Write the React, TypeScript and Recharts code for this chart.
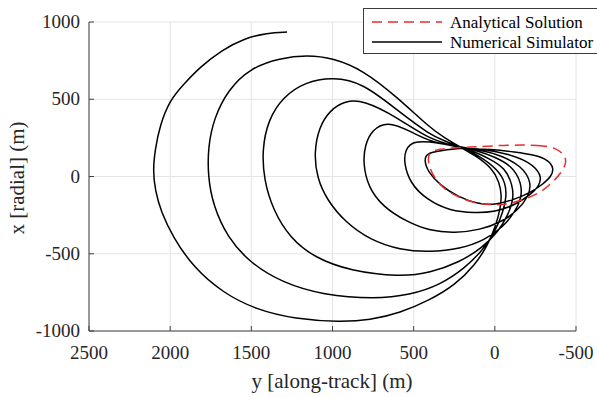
import { ComposedChart, Line, XAxis, YAxis, CartesianGrid, Legend } from 'recharts'

const FONT = '"Liberation Serif", "Times New Roman", serif'
const INK = '#262626'
const FRAME = '#404040'
const RED = '#e62e2e'
const PLOT_TOP = 22
const PLOT_BOTTOM = 331
const PLOT_LEFT = 89
const PLOT_RIGHT = 576

// tick values
const alongTicks = [2500, 2000, 1500, 1000, 500, 0, -500]
const radialTicks = [-1000, -500, 0, 500, 1000]

const loop1 = [
  [1280, 935], [1403, 929], [1539, 896], [1681, 819], [1816, 709], [1921, 592], [2001, 495],
  [2063, 333], [2093, 172], [2106, 42], [2093, -87], [2056, -230], [1983, -391], [1859, -586],
  [1675, -754], [1465, -864], [1231, -922], [954, -942], [769, -929], [584, -883], [399, -799],
  [245, -702], [122, -573], [42, -443], [-7, -314], [-35, -204], [-42, -120], [-28, -36],
  [18, 55], [116, 133],
]
const loop2 = [
  [215, 191], [307, 249], [399, 314], [603, 515], [812, 689], [997, 767], [1157, 786],
  [1323, 767], [1508, 702], [1644, 560], [1730, 379], [1767, 191], [1767, -3], [1736, -184],
  [1650, -391], [1508, -560], [1305, -689], [1059, -767], [738, -793], [523, -767], [338, -702],
  [184, -592], [73, -476], [-7, -346], [-50, -230], [-72, -132], [-66, -42], [-20, 42], [91, 133],
]
const loop3 = [
  [215, 191], [307, 230], [399, 269], [603, 430], [812, 605], [997, 644], [1169, 612],
  [1305, 515], [1397, 366], [1434, 172], [1422, -23], [1366, -217], [1262, -398], [1108, -527],
  [892, -611], [584, -650], [399, -624], [215, -553], [79, -463], [-20, -359], [-81, -249],
  [-115, -152], [-110, -55], [-63, 55], [30, 113], [122, 159],
]
const loop4 = [
  [215, 191], [399, 236], [603, 385], [812, 495], [923, 489], [1015, 430], [1083, 320],
  [1114, 152], [1095, -10], [1034, -152], [923, -294], [769, -411], [584, -476], [399, -489],
  [215, -469], [61, -411], [-50, -327], [-124, -230], [-165, -139], [-165, -42], [-106, 68],
  [-1, 126], [104, 165],
]
const loop5 = [
  [215, 191], [399, 223], [523, 295], [664, 359], [757, 301], [800, 204], [812, 87],
  [781, -68], [689, -197], [541, -294], [399, -353], [245, -366], [91, -346], [-44, -294],
  [-143, -217], [-206, -132], [-228, -42], [-167, 68], [-32, 139], [91, 172],
]
const loop6 = [
  [215, 191], [338, 217], [504, 236], [553, 172], [560, 87], [523, -42], [418, -152],
  [276, -223], [122, -236], [-1, -230], [-124, -184], [-217, -120], [-275, -61], [-290, 10],
  [-217, 94], [-81, 146], [61, 178],
]
const loop7 = [
  [215, 185], [338, 165], [418, 152], [436, 107], [412, 29], [338, -55], [227, -132],
  [104, -178], [-1, -184], [-112, -152], [-217, -107], [-297, -49], [-350, 3], [-364, 55],
  [-327, 107], [-247, 139], [-124, 159], [30, 178], [153, 178],
]

// analytical solution (closed loop)
const analytical = [
  [-75, 204], [-278, 204], [-377, 185], [-430, 139], [-442, 94], [-414, 29], [-352, -42],
  [-278, -107], [-173, -152], [-63, -184], [30, -184], [135, -171], [245, -126], [338, -61],
  [393, 29], [415, 107], [402, 172], [258, 185], [135, 191],
]

const toRows = (pts: number[][]) => pts.map(([along, radial]) => ({ along, radial }))
const numericalRows = toRows([...loop1, ...loop2, ...loop3, ...loop4, ...loop5, ...loop6, ...loop7])
const analyticalRows = toRows(analytical)

const BottomTick = ({ x, payload }: any) => (
  <g>
    <line x1={x} x2={x} y1={PLOT_BOTTOM} y2={PLOT_BOTTOM - 5} stroke={FRAME} />
    <text x={x} y={359} textAnchor="middle" fontSize={19} fill={INK} fontFamily={FONT}>
      {payload.value}
    </text>
  </g>
)

const TopTick = ({ x }: any) => (
  <line x1={x} x2={x} y1={PLOT_TOP} y2={PLOT_TOP + 5} stroke={FRAME} />
)

const LeftTick = ({ y, payload }: any) => (
  <g>
    <line x1={PLOT_LEFT} x2={PLOT_LEFT + 5} y1={y} y2={y} stroke={FRAME} />
    <text x={80} y={y + 6} textAnchor="end" fontSize={19} fill={INK} fontFamily={FONT}>
      {payload.value}
    </text>
  </g>
)

const RightTick = ({ y }: any) => (
  <line x1={PLOT_RIGHT} x2={PLOT_RIGHT - 5} y1={y} y2={y} stroke={FRAME} />
)

const XTitle = () => (
  <text x={332} y={388} textAnchor="middle" fontSize={21} fill={INK} fontFamily={FONT}>
    y [along-track] (m)
  </text>
)

const YTitle = () => (
  <text x={24} y={178} transform="rotate(-90, 24, 178)" textAnchor="middle" fontSize={21} fill={INK} fontFamily={FONT}>
    x [radial] (m)
  </text>
)

const LegendBox = () => (
  <div style={{ width: 250, height: 44, border: '1px solid #3c3c3c', background: '#fff' }}>
    <svg width={250} height={44} style={{ display: 'block' }}>
      <line x1={8} x2={78} y1={13} y2={13} stroke={RED} strokeWidth={1.5} strokeDasharray="10 6" />
      <text x={86} y={19} fontSize={17} fill="#000" fontFamily={FONT}>Analytical Solution</text>
      <line x1={8} x2={78} y1={33} y2={33} stroke="#000" strokeWidth={1.5} />
      <text x={86} y={39} fontSize={17} fill="#000" fontFamily={FONT}>Numerical Simulator</text>
    </svg>
  </div>
)

export default function App() {
  return (
    <div style={{ position: 'absolute', left: 0, top: 0, width: 597, height: 397, overflow: 'hidden', background: '#fff' }}>
      <ComposedChart width={597} height={397} margin={{ top: 22, right: 21, left: 0, bottom: 0 }}>
        <CartesianGrid stroke="#e4e4e4" />
        <XAxis
          dataKey="along"
          type="number"
          domain={[-500, 2500]}
          ticks={alongTicks}
          interval={0}
          reversed
          allowDataOverflow
          height={66}
          tickLine={false}
          axisLine={{ stroke: FRAME }}
          tick={<BottomTick />}
          label={<XTitle />}
        />
        <XAxis
          xAxisId="top"
          orientation="top"
          dataKey="along"
          type="number"
          domain={[-500, 2500]}
          ticks={alongTicks}
          interval={0}
          reversed
          allowDataOverflow
          height={0}
          tickLine={false}
          axisLine={{ stroke: FRAME }}
          tick={<TopTick />}
        />
        <YAxis
          dataKey="radial"
          type="number"
          domain={[-1000, 1000]}
          ticks={radialTicks}
          interval={0}
          allowDataOverflow
          width={89}
          tickLine={false}
          axisLine={{ stroke: FRAME }}
          tick={<LeftTick />}
          label={<YTitle />}
        />
        <YAxis
          yAxisId="right"
          orientation="right"
          dataKey="radial"
          type="number"
          domain={[-1000, 1000]}
          ticks={radialTicks}
          interval={0}
          allowDataOverflow
          width={0}
          tickLine={false}
          axisLine={{ stroke: FRAME }}
          tick={<RightTick />}
        />
        <Line
          data={numericalRows}
          dataKey="radial"
          type="basis"
          stroke="#000"
          strokeWidth={1.5}
          dot={false}
          activeDot={false}
          isAnimationActive={false}
        />
        <Line
          data={analyticalRows}
          dataKey="radial"
          type="basisClosed"
          stroke={RED}
          strokeWidth={1.5}
          strokeDasharray="10 6"
          dot={false}
          activeDot={false}
          isAnimationActive={false}
        />
        <Legend
          content={<LegendBox />}
          layout="vertical"
          align="center"
          verticalAlign="middle"
          wrapperStyle={{ left: 363, top: 8, width: 'auto' }}
        />
      </ComposedChart>
    </div>
  )
}
